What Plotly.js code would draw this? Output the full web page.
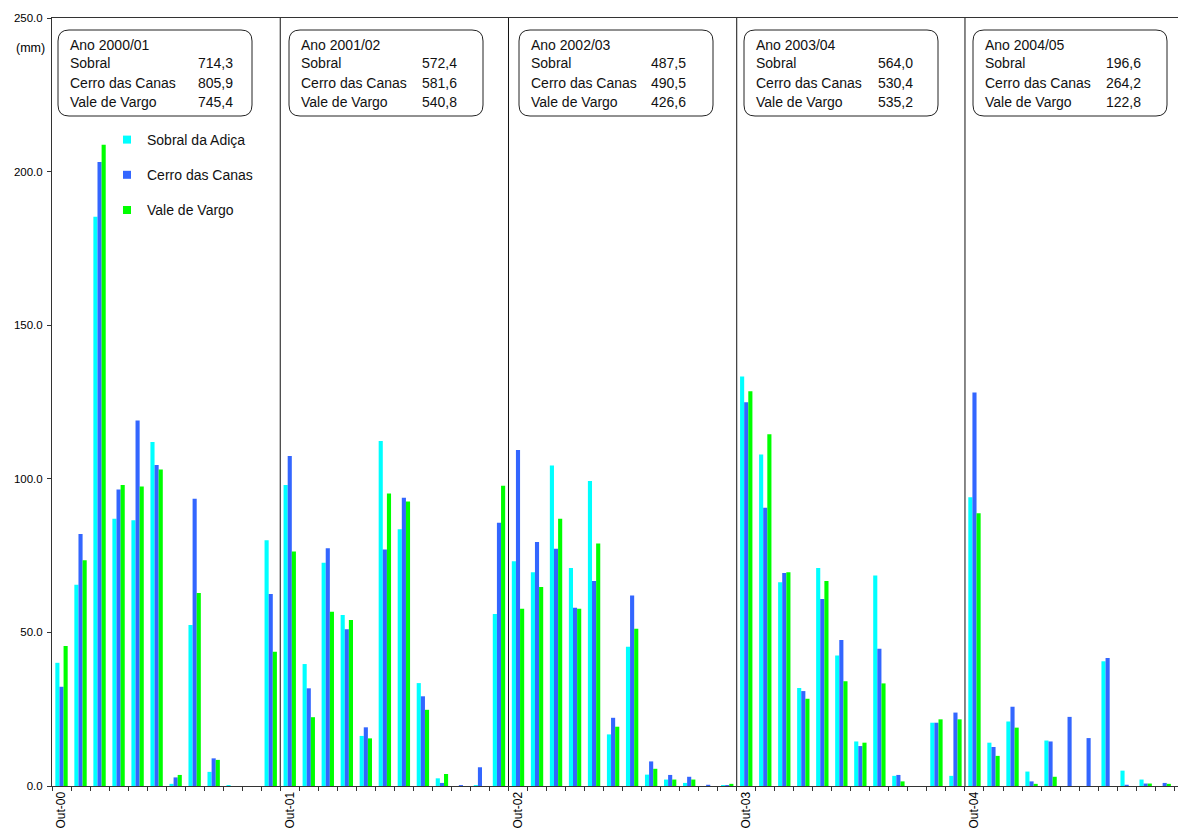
<!DOCTYPE html>
<html>
<head>
<meta charset="utf-8">
<script src="https://cdn.plot.ly/plotly-3.0.1.min.js"></script>
<style>html,body{margin:0;padding:0;background:#fff;}#chart{width:1178px;height:829px;}</style>
</head>
<body>
<div id="chart"></div>
<script>
const months = [
 "Out-00","Nov-00","Dez-00","Jan-01","Fev-01","Mar-01","Abr-01","Mai-01","Jun-01","Jul-01","Ago-01","Set-01",
 "Out-01","Nov-01","Dez-01","Jan-02","Fev-02","Mar-02","Abr-02","Mai-02","Jun-02","Jul-02","Ago-02","Set-02",
 "Out-02","Nov-02","Dez-02","Jan-03","Fev-03","Mar-03","Abr-03","Mai-03","Jun-03","Jul-03","Ago-03","Set-03",
 "Out-03","Nov-03","Dez-03","Jan-04","Fev-04","Mar-04","Abr-04","Mai-04","Jun-04","Jul-04","Ago-04","Set-04",
 "Out-04","Nov-04","Dez-04","Jan-05","Fev-05","Mar-05","Abr-05","Mai-05","Jun-05","Jul-05","Ago-05"
];

const sobral = [
 40.1, 65.5, 185.3, 87.0, 86.5, 112.0, 0.7, 52.4, 4.6, 0.3, 0.0, 80.0,
 98.0, 39.7, 72.7, 55.7, 16.3, 112.3, 83.6, 33.5, 2.5, 0.0, 0.3, 56.0,
 73.2, 69.6, 104.3, 71.0, 99.3, 16.8, 45.3, 3.7, 2.1, 1.0, 0.0, 0.3,
 133.3, 107.9, 66.3, 31.9, 71.0, 42.5, 14.5, 68.5, 3.3, 0.0, 20.6, 3.3,
 94.0, 14.1, 21.0, 4.7, 14.8, 0.0, 0.0, 40.6, 5.0, 2.1, 0.0
];
const cerro = [
 32.3, 82.0, 203.1, 96.5, 119.0, 104.5, 2.8, 93.5, 9.0, 0.0, 0.0, 62.5,
 107.4, 31.8, 77.4, 51.0, 19.1, 77.0, 93.8, 29.2, 1.0, 0.3, 6.1, 85.7,
 109.4, 79.4, 77.2, 58.0, 66.7, 22.2, 62.0, 8.0, 3.6, 3.0, 0.4, 0.3,
 124.9, 90.6, 69.3, 30.9, 60.9, 47.5, 13.0, 44.7, 3.6, 0.0, 20.6, 23.9,
 128.1, 12.7, 25.8, 1.5, 14.5, 22.5, 15.6, 41.7, 0.4, 0.8, 1.0
];
const vale = [
 45.6, 73.5, 208.7, 98.0, 97.5, 103.0, 3.6, 62.8, 8.5, 0.0, 0.0, 43.7,
 76.3, 22.4, 56.7, 54.0, 15.5, 95.2, 92.6, 24.8, 3.9, 0.0, 0.0, 97.7,
 57.7, 64.8, 87.0, 57.7, 78.9, 19.3, 51.2, 5.6, 2.1, 2.1, 0.0, 0.7,
 128.5, 114.5, 69.6, 28.4, 66.7, 34.1, 14.1, 33.4, 1.5, 0.0, 21.7, 21.7,
 88.8, 9.8, 19.0, 0.7, 3.0, 0.0, 0.0, 0.0, 0.0, 0.8, 0.7
];

const seriesNames = ["Sobral da Adiça", "Cerro das Canas", "Vale de Vargo"];
const boxRowLabels = ["Sobral", "Cerro das Canas", "Vale de Vargo"];
const yearLabels = ["Ano 2000/01", "Ano 2001/02", "Ano 2002/03", "Ano 2003/04", "Ano 2004/05"];
const totSobral = ["714,3", "572,4", "487,5", "564,0", "196,6"];
const totCerro  = ["805,9", "581,6", "490,5", "530,4", "264,2"];
const totVale   = ["745,4", "540,8", "426,6", "535,2", "122,8"];

const colors = ["#00FFFF", "#3366FF", "#00FF00"];

// layout geometry (pixels)
const W = 1178, H = 829, ML = 52, MR = 0, MT = 18, MB = 43;
const PW = W - ML - MR, PH = H - MT - MB;
const px = x => (x - ML) / PW;
const py = y => (H - MB - y) / PH;
const FAM = "Arial, Liberation Sans, sans-serif";

const traces = [sobral, cerro, vale].map((arr, i) => ({
  type: "bar", x: months, y: arr, name: seriesNames[i],
  marker: {color: colors[i], line: {width: 0}},
  showlegend: false, hoverinfo: "x+y+name"
}));
seriesNames.forEach((n, i) => traces.push({
  type: "scatter", mode: "markers", x: [null], y: [null], name: n,
  legendgroup: "g" + i,
  marker: {symbol: "square", size: 8, color: colors[i]},
  hoverinfo: "skip"
}));

const tickText = months.map(m => m.startsWith("Out") ? m : "");

const shapes = [];
months.forEach((m, i) => {
  if (m.startsWith("Out") && i > 0) {
    shapes.push({type: "line", xref: "x", yref: "paper", x0: i - 0.5, x1: i - 0.5, y0: 0, y1: 1,
      line: {color: "#111", width: 1}});
  }
});

const boxLeft = [58, 289, 519, 744, 973];
const valRight = [235, 459, 688, 915, 1143];
const boxW = 194, boxTop = 30, boxBot = 116, r = 11;
const annotations = [];
boxLeft.forEach((bl, k) => {
  const x0 = px(bl), x1 = px(bl + boxW), y1 = py(boxTop), y0 = py(boxBot);
  const rx = r / PW, ry = r / PH;
  shapes.push({type: "path", xref: "paper", yref: "paper",
    path: `M${x0+rx},${y1} L${x1-rx},${y1} Q${x1},${y1} ${x1},${y1-ry} L${x1},${y0+ry} Q${x1},${y0} ${x1-rx},${y0} L${x0+rx},${y0} Q${x0},${y0} ${x0},${y0+ry} L${x0},${y1-ry} Q${x0},${y1} ${x0+rx},${y1} Z`,
    line: {color: "#222", width: 1}, fillcolor: "rgba(0,0,0,0)"});
  const rowsY = [44.5, 63.5, 82.5, 101.5];
  const font = {family: FAM, size: 14, color: "#111"};
  annotations.push({xref: "paper", yref: "paper", x: px(bl + 10), y: py(rowsY[0]), xanchor: "left", yanchor: "middle",
    text: yearLabels[k], showarrow: false, font});
  const vals = [totSobral[k], totCerro[k], totVale[k]];
  boxRowLabels.forEach((lab, j) => {
    annotations.push({xref: "paper", yref: "paper", x: px(bl + 10), y: py(rowsY[j+1]), xanchor: "left", yanchor: "middle",
      text: lab, showarrow: false, font});
    annotations.push({xref: "paper", yref: "paper", x: px(valRight[k]), y: py(rowsY[j+1]), xanchor: "right", yanchor: "middle",
      text: vals[j], showarrow: false, font});
  });
});
annotations.push({xref: "paper", yref: "paper", x: px(47), y: py(48), xanchor: "right", yanchor: "middle",
  text: "(mm)", showarrow: false, font: {family: FAM, size: 12.5, color: "#000"}});

const layout = {
  width: W, height: H,
  margin: {l: ML, r: MR, t: MT, b: MB, pad: 0},
  paper_bgcolor: "#fff", plot_bgcolor: "#fff",
  font: {family: FAM, color: "#000"},
  barmode: "group", bargap: 0.35, bargroupgap: 0,
  showlegend: true,
  legend: {x: px(107), y: py(124), xanchor: "left", yanchor: "top", bgcolor: "rgba(0,0,0,0)",
    font: {size: 14, color: "#111"}, traceorder: "grouped", tracegroupgap: 14},
  xaxis: {type: "category", range: [-0.5, 58.7], tickmode: "array", tickvals: months, ticktext: tickText,
    tickangle: -90, tickson: "boundaries", ticks: "outside", ticklen: 4, tickcolor: "#333",
    showline: true, linecolor: "#333", linewidth: 1, mirror: true, showgrid: false, zeroline: false,
    tickfont: {size: 12, color: "#000"}, fixedrange: true},
  yaxis: {range: [0, 250], tick0: 0, dtick: 50, tickformat: ".1f", ticks: "outside", ticklen: 4, tickcolor: "#333",
    showline: true, linecolor: "#333", linewidth: 1, showgrid: false, zeroline: false,
    ticklabelstandoff: 2, tickfont: {size: 11.5, color: "#000"}, fixedrange: true},
  shapes, annotations
};

Plotly.newPlot("chart", traces, layout, {displayModeBar: false, staticPlot: true});
</script>
</body>
</html>
